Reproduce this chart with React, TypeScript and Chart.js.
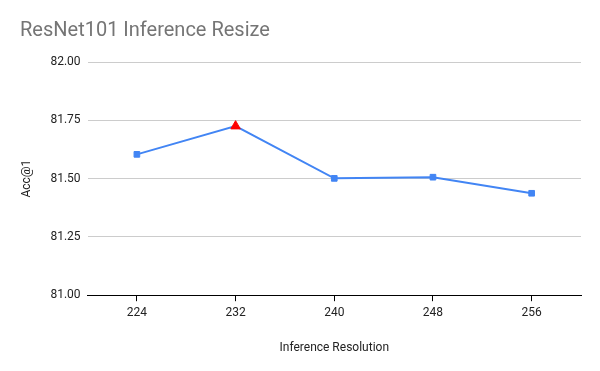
import React, { useEffect, useRef } from "react";
import { Chart, registerables } from "chart.js";

Chart.register(...registerables);

const categories: string[] = ["224", "232", "240", "248", "256"];
const accuracy: number[] = [81.604, 81.725, 81.501, 81.506, 81.437];
const yTicks: number[] = [81.0, 81.25, 81.5, 81.75, 82.0];
const bestIndex = 1;

export default function App() {
  const ref = useRef<HTMLCanvasElement | null>(null);

  useEffect(() => {
    if (!ref.current) return;
    const styles = categories.map((_, i) => (i === bestIndex ? "triangle" : "rect"));
    const colors = categories.map((_, i) => (i === bestIndex ? "#ff0000" : "#4285f4"));
    const radii = categories.map((_, i) => (i === bestIndex ? 5.5 : 4));
    const chart = new Chart(ref.current, {
      type: "line",
      data: {
        labels: categories,
        datasets: [
          {
            label: "Acc@1",
            data: accuracy,
            borderColor: "#4285f4",
            borderWidth: 2,
            pointStyle: styles as any,
            pointBackgroundColor: colors,
            pointBorderColor: colors,
            pointBorderWidth: 1,
            pointRadius: radii,
            tension: 0,
          },
        ],
      },
      options: {
        animation: false,
        responsive: false,
        maintainAspectRatio: false,
        layout: { padding: { top: 19, left: 20, right: 19, bottom: 16 } },
        plugins: {
          legend: { display: false },
          tooltip: { enabled: false },
          title: {
            display: true,
            text: "ResNet101 Inference Resize",
            align: "start",
            color: "#757575",
            font: { family: "Roboto", size: 20, weight: "normal" },
            padding: { top: 0, bottom: 19 },
          },
        },
        scales: {
          x: {
            offset: true,
            grid: {
              drawOnChartArea: false,
              drawTicks: true,
              tickLength: 6,
              color: "#000000",
              offset: false,
            },
            border: { display: true, color: "#000000", width: 1 },
            ticks: {
              color: "#222222",
              font: { family: "Roboto", size: 12 },
              padding: 5,
            },
            title: {
              display: true,
              text: "Inference Resolution",
              color: "#222222",
              font: { family: "Roboto", size: 12 },
              padding: { top: 15, bottom: 0 },
            },
          },
          y: {
            min: 81,
            max: 82,
            afterBuildTicks: (axis: any) => {
              axis.ticks = yTicks.map((v) => ({ value: v }));
            },
            grid: {
              color: (ctx: any) => (ctx.tick && ctx.tick.value === 81 ? "rgba(0,0,0,0)" : "#cccccc"),
              drawTicks: false,
            },
            border: { display: false },
            ticks: {
              color: "#222222",
              font: { family: "Roboto", size: 12 },
              padding: 7,
              callback: (v: any) => Number(v).toFixed(2),
            },
            title: {
              display: true,
              text: "Acc@1",
              color: "#222222",
              font: { family: "Roboto", size: 12 },
              padding: { top: 0, bottom: 9 },
            },
          },
        },
      },
    });
    return () => chart.destroy();
  }, []);

  return (
    <div style={{ position: "fixed", left: 0, top: 0, width: 600, height: 371, background: "#fff" }}>
      <canvas ref={ref} width={600} height={371} style={{ width: 600, height: 371 }} />
    </div>
  );
}
